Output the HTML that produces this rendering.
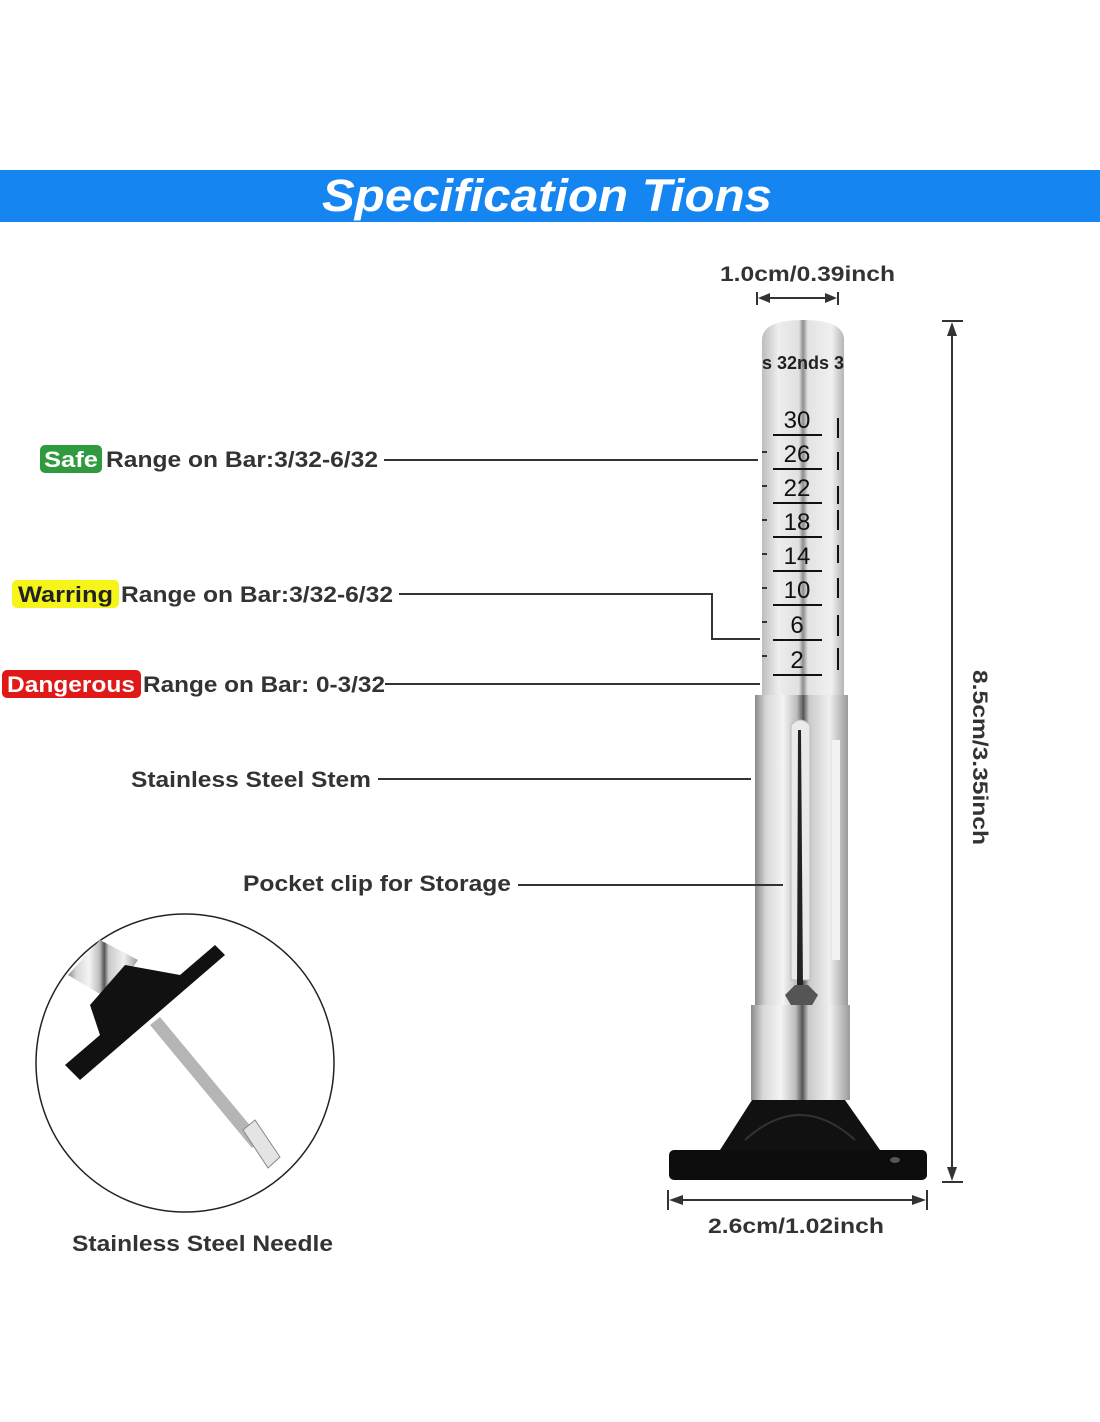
<!DOCTYPE html>
<html><head><meta charset="utf-8"><style>
html,body{margin:0;padding:0;background:#fff;}
svg{display:block;}
text{font-family:"Liberation Sans",sans-serif;}
</style></head><body>
<svg width="1100" height="1422" viewBox="0 0 1100 1422" xmlns="http://www.w3.org/2000/svg">
<defs>
<linearGradient id="steel" x1="0" x2="1" y1="0" y2="0">
<stop offset="0" stop-color="#8a8a8a"/><stop offset="0.12" stop-color="#d8d8d8"/><stop offset="0.3" stop-color="#f4f4f4"/><stop offset="0.45" stop-color="#bdbdbd"/><stop offset="0.52" stop-color="#555"/><stop offset="0.58" stop-color="#c9c9c9"/><stop offset="0.8" stop-color="#f0f0f0"/><stop offset="1" stop-color="#9a9a9a"/>
</linearGradient>
<linearGradient id="bar" x1="0" x2="1" y1="0" y2="0">
<stop offset="0" stop-color="#bdbdbd"/><stop offset="0.2" stop-color="#eeeeee"/><stop offset="0.45" stop-color="#e0e0e0"/><stop offset="0.5" stop-color="#8d8d8d"/><stop offset="0.56" stop-color="#e3e3e3"/><stop offset="0.85" stop-color="#f0f0f0"/><stop offset="1" stop-color="#b5b5b5"/>
</linearGradient>
</defs>
<rect x="0" y="170" width="1100" height="52" fill="#1585f2"/>
<text x="322" y="211" font-size="45" font-weight="bold" font-style="italic" fill="#fff" textLength="450" lengthAdjust="spacingAndGlyphs">Specification Tions</text>

<!-- top dimension -->
<text x="720" y="281" font-size="21" font-weight="bold" fill="#333" textLength="175" lengthAdjust="spacingAndGlyphs">1.0cm/0.39inch</text>
<g stroke="#333" stroke-width="2"><line x1="757" y1="292" x2="757" y2="305"/><line x1="838" y1="292" x2="838" y2="305"/><line x1="762" y1="298" x2="833" y2="298"/></g>
<path d="M758 298 l12 -5 v10z M837 298 l-12 -5 v10z" fill="#333"/>

<!-- bar -->
<path d="M762 695 V340 Q762 320 803 320 Q844 320 844 340 V695Z" fill="url(#bar)"/>
<text x="803" y="369" text-anchor="middle" font-size="18" font-weight="bold" fill="#222" textLength="82" lengthAdjust="spacingAndGlyphs">s 32nds 3</text>
<g font-size="24" fill="#111" text-anchor="middle">
<text x="797" y="428">30</text><text x="797" y="462">26</text><text x="797" y="496">22</text><text x="797" y="530">18</text><text x="797" y="564">14</text><text x="797" y="598">10</text><text x="797" y="633">6</text><text x="797" y="668">2</text>
</g>
<g stroke="#111" stroke-width="2">
<line x1="773" y1="435" x2="822" y2="435"/><line x1="773" y1="469" x2="822" y2="469"/><line x1="773" y1="503" x2="822" y2="503"/><line x1="773" y1="537" x2="822" y2="537"/><line x1="773" y1="571" x2="822" y2="571"/><line x1="773" y1="605" x2="822" y2="605"/><line x1="773" y1="640" x2="822" y2="640"/><line x1="773" y1="675" x2="822" y2="675"/>
<line x1="838" y1="418" x2="838" y2="438"/><line x1="838" y1="452" x2="838" y2="470"/><line x1="838" y1="486" x2="838" y2="504"/><line x1="838" y1="510" x2="838" y2="530"/><line x1="838" y1="545" x2="838" y2="563"/><line x1="838" y1="578" x2="838" y2="598"/><line x1="838" y1="615" x2="838" y2="636"/><line x1="838" y1="648" x2="838" y2="670"/>
</g>
<g stroke="#333" stroke-width="2"><line x1="762" y1="452" x2="767" y2="452"/><line x1="762" y1="486" x2="767" y2="486"/><line x1="762" y1="520" x2="767" y2="520"/><line x1="762" y1="554" x2="767" y2="554"/><line x1="762" y1="588" x2="767" y2="588"/><line x1="762" y1="622" x2="767" y2="622"/><line x1="762" y1="656" x2="767" y2="656"/></g>
<!-- stem -->
<rect x="755" y="695" width="93" height="312" fill="url(#steel)"/>
<path d="M791 725 Q800 715 810 725 V980 H791Z" fill="#eaeaea" stroke="#bbb"/>
<path d="M798 730 L801 730 L803 990 H797Z" fill="#222"/>
<rect x="832" y="740" width="8" height="220" fill="#f2f2f2"/>
<polygon points="785,995 795,985 808,985 818,995 808,1012 795,1012" fill="#555"/>
<rect x="751" y="1005" width="99" height="95" fill="url(#steel)"/>
<!-- base -->
<path d="M752 1100 H845 L880 1150 H720Z" fill="#111"/>
<path d="M745 1140 Q800 1090 855 1140" fill="none" stroke="#333" stroke-width="2"/>
<rect x="669" y="1150" width="258" height="30" rx="5" fill="#0d0d0d"/>
<ellipse cx="895" cy="1160" rx="5" ry="3" fill="#555"/>

<!-- right dimension -->
<g stroke="#333" stroke-width="2"><line x1="942" y1="321" x2="963" y2="321"/><line x1="942" y1="1182" x2="963" y2="1182"/><line x1="952" y1="328" x2="952" y2="1175"/></g>
<path d="M952 322 l-5 14 h10z M952 1181 l-5 -14 h10z" fill="#333"/>
<text transform="translate(973,670) rotate(90)" font-size="21" font-weight="bold" fill="#333" textLength="175" lengthAdjust="spacingAndGlyphs">8.5cm/3.35inch</text>
<!-- bottom dimension -->
<g stroke="#333" stroke-width="2"><line x1="668" y1="1190" x2="668" y2="1210"/><line x1="927" y1="1190" x2="927" y2="1210"/><line x1="675" y1="1200" x2="920" y2="1200"/></g>
<path d="M669 1200 l14 -5 v10z M926 1200 l-14 -5 v10z" fill="#333"/>
<text x="708" y="1233" font-size="21" font-weight="bold" fill="#333" textLength="176" lengthAdjust="spacingAndGlyphs">2.6cm/1.02inch</text>

<!-- labels -->
<rect x="40" y="445" width="62" height="28" rx="5" fill="#2f9a3e"/>
<text x="44" y="467" font-size="22" font-weight="bold" fill="#fff" textLength="54" lengthAdjust="spacingAndGlyphs">Safe</text>
<text x="106" y="467" font-size="22" font-weight="bold" fill="#333" textLength="272" lengthAdjust="spacingAndGlyphs">Range on Bar:3/32-6/32</text>
<line x1="384" y1="460" x2="758" y2="460" stroke="#333" stroke-width="2"/>

<rect x="12" y="580" width="107" height="28" rx="5" fill="#f5f51a"/>
<text x="18" y="602" font-size="22" font-weight="bold" fill="#222" textLength="95" lengthAdjust="spacingAndGlyphs">Warring</text>
<text x="121" y="602" font-size="22" font-weight="bold" fill="#333" textLength="272" lengthAdjust="spacingAndGlyphs">Range on Bar:3/32-6/32</text>
<polyline points="399,594 712,594 712,639 760,639" fill="none" stroke="#333" stroke-width="2"/>

<rect x="2" y="670" width="139" height="28" rx="5" fill="#e01818"/>
<text x="7" y="692" font-size="22" font-weight="bold" fill="#fff" textLength="128" lengthAdjust="spacingAndGlyphs">Dangerous</text>
<text x="143" y="692" font-size="22" font-weight="bold" fill="#333" textLength="242" lengthAdjust="spacingAndGlyphs">Range on Bar: 0-3/32</text>
<line x1="385" y1="684" x2="760" y2="684" stroke="#333" stroke-width="2"/>

<text x="131" y="787" font-size="22" font-weight="bold" fill="#333" textLength="240" lengthAdjust="spacingAndGlyphs">Stainless Steel Stem</text>
<line x1="378" y1="779" x2="751" y2="779" stroke="#333" stroke-width="2"/>
<text x="243" y="891" font-size="22" font-weight="bold" fill="#333" textLength="268" lengthAdjust="spacingAndGlyphs">Pocket clip for Storage</text>
<line x1="518" y1="885" x2="783" y2="885" stroke="#333" stroke-width="2"/>

<!-- circle -->
<circle cx="185" cy="1063" r="149" fill="#fff" stroke="#222" stroke-width="1.5"/>
<g>
<polygon points="68,975 100,940 138,960 110,1000" fill="url(#steel)"/>
<polygon points="90,1005 125,965 180,975 215,945 225,955 80,1080 65,1065 100,1035" fill="#111"/>
<polygon points="150,1025 160,1017 262,1140 252,1148" fill="#b5b5b5"/>
<polygon points="243,1130 255,1120 280,1157 268,1168" fill="#e4e4e4" stroke="#888" stroke-width="1"/>
</g>
<text x="72" y="1251" font-size="22" font-weight="bold" fill="#333" textLength="261" lengthAdjust="spacingAndGlyphs">Stainless Steel Needle</text>
</svg>
</body></html>
